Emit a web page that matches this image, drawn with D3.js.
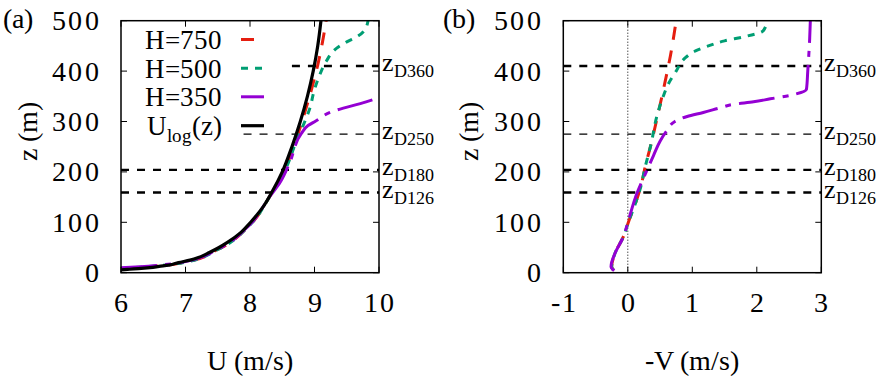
<!DOCTYPE html>
<html>
<head>
<meta charset="utf-8">
<script src="https://cdn.jsdelivr.net/npm/d3@7"></script>
<style>
    @font-face { font-family: 'ChartSerif'; src: local('Liberation Serif'), local('LiberationSerif-Regular'), local('Times New Roman'); }
    text, tspan { font-family: 'ChartSerif', 'Liberation Serif', 'Times New Roman', Tinos, 'Nimbus Roman', FreeSerif !important; }
</style>
</head>
<body style="margin:0">
<div id="chart"></div>
<script>
// ---- data ----
const zTicks = [0, 100, 200, 300, 400, 500];
const uTicks = [6, 7, 8, 9, 10];
const vTicks = [-1, 0, 1, 2, 3];

// reference heights z_D (m) and their labels
const zDHeights = [410, 275, 204, 159];
const zDNames = ['D360', 'D250', 'D180', 'D126'];
// where the dashed line begins in panel (a), in U units
const zDStartU = [8.65, 7.9, 6, 6];

// panel (a): [U (m/s), z (m)]
const uH750 = [[6.0, 8], [6.3, 10.5], [6.6, 13.5], [7.0, 21], [7.5, 46], [8.0, 95], [8.3, 150],
    [8.55, 208], [8.7, 258], [8.83, 310], [8.95, 362], [9.05, 412], [9.12, 455], [9.18, 500]];
const uH500 = [[6.0, 8.5], [6.3, 11], [6.6, 14], [7.0, 21], [7.5, 46], [8.0, 95], [8.3, 150],
    [8.56, 208], [8.72, 262], [8.85, 300], [8.93, 327], [8.99, 359], [9.07, 389], [9.18, 419],
    [9.34, 445], [9.5, 458], [9.68, 470], [9.77, 480], [9.83, 500]];
const uH350 = [[6.0, 10], [6.3, 12], [6.6, 15], [7.0, 22], [7.5, 47], [8.0, 96], [8.3, 150],
    [8.47, 180], [8.62, 220], [8.8, 277], [8.9, 292], [9.02, 301], [9.24, 318], [9.8, 339], [10.0, 347]];
const uLog = [[6.0, 5.5], [6.1, 6.5], [6.2, 7.5], [6.36, 9], [6.45, 10], [6.59, 12.5], [6.74, 15],
    [6.89, 20], [7.07, 25], [7.2, 30], [7.37, 40], [7.52, 50], [7.65, 60], [7.86, 80], [8.01, 100],
    [8.2, 130], [8.34, 160], [8.5, 200], [8.65, 250], [8.78, 300], [8.89, 350], [8.98, 400],
    [9.05, 450], [9.1, 500]];

// panel (b): [-V (m/s), z (m)]
const vH750 = [[-0.22, 5], [-0.25, 12], [-0.2, 38], [-0.07, 71], [0.02, 104], [0.1, 131], [0.2, 170],
    [0.27, 210], [0.36, 255], [0.46, 310], [0.58, 380], [0.66, 430], [0.75, 500]];
const vH500 = [[-0.22, 5], [-0.25, 12], [-0.2, 38], [-0.07, 71], [0.02, 104], [0.1, 131], [0.2, 170],
    [0.27, 210], [0.36, 255], [0.45, 310], [0.55, 350], [0.63, 375], [0.75, 400], [0.88, 425],
    [1.05, 440], [1.25, 450], [1.5, 460], [1.8, 468], [2.1, 480], [2.16, 500]];
const vH350 = [[-0.21, 4], [-0.26, 12], [-0.2, 38], [-0.07, 71], [0.01, 104], [0.14, 157], [0.3, 204],
    [0.4, 233], [0.5, 261], [0.6, 281], [0.73, 300], [0.92, 310], [1.17, 318], [1.43, 327],
    [1.64, 334], [1.95, 339], [2.21, 345], [2.52, 352], [2.77, 364], [2.79, 400], [2.82, 465], [2.83, 500]];

const series = {
    h750: {name: 'H=750', color: '#e51e10', dash: '13,11', width: 3},
    h500: {name: 'H=500', color: '#009e73', dash: '7,7', width: 3},
    h350: {name: 'H=350', color: '#9400d3', dash: '36,8,6,8', width: 3},
    log: {name: 'U', color: '#000', dash: null, width: 3.2}
};

const FONT = '"Times New Roman"';
const width = 887;
const height = 386;
const plotTop = 20.7;
const plotHeight = 252;
const plotWidth = 258;

const svg = d3.select('#chart').append('svg')
    .attr('width', width)
    .attr('height', height)
    .style('display', 'block');

const yScale = d3.scaleLinear().domain([0, 500]).range([plotTop + plotHeight, plotTop]);

function addText(parent, x, y, size) {
    return parent.append('text')
        .attr('x', x).attr('y', y)
        .style('font-family', FONT)
        .style('font-size', size + 'px');
}

function drawPanel(opts) {
    const xScale = d3.scaleLinear().domain(opts.domain).range([opts.left, opts.left + plotWidth]);
    const right = opts.left + plotWidth;
    const bottom = plotTop + plotHeight;

    // zero line
    if (opts.zeroLine) {
        svg.append('line')
            .attr('x1', xScale(0)).attr('x2', xScale(0))
            .attr('y1', plotTop).attr('y2', bottom)
            .attr('stroke', '#000').attr('stroke-width', 1)
            .attr('stroke-dasharray', '1,2');
    }

    // z_D reference lines
    zDHeights.forEach((z, i) => {
        const x0 = opts.zDStart ? xScale(opts.zDStart[i]) : opts.left;
        svg.append('line')
            .attr('x1', x0).attr('x2', right)
            .attr('y1', yScale(z)).attr('y2', yScale(z))
            .attr('stroke', '#000')
            .attr('stroke-width', i === 1 ? 1.3 : 2.4)
            .attr('stroke-dasharray', '8,8');

        const lbl = addText(svg, right + 3, yScale(z) + 5, 26);
        lbl.append('tspan').text('z');
        lbl.append('tspan')
            .attr('dy', 6)
            .style('font-size', '18px')
            .text(zDNames[i]);
    });

    // curves
    const line = d3.line()
        .x(d => xScale(d[0]))
        .y(d => yScale(d[1]))
        .curve(d3.curveMonotoneY);

    const clipId = 'clip-' + opts.tag;
    svg.append('clipPath').attr('id', clipId)
        .append('rect')
        .attr('x', opts.left).attr('y', plotTop)
        .attr('width', plotWidth).attr('height', plotHeight);

    opts.curves.forEach(c => {
        svg.append('path')
            .datum(c.data)
            .attr('clip-path', `url(#${clipId})`)
            .attr('fill', 'none')
            .attr('stroke', c.style.color)
            .attr('stroke-width', c.style.width)
            .attr('stroke-dasharray', c.style.dash)
            .attr('stroke-linejoin', 'round')
            .attr('d', line);
    });

    // frame
    svg.append('rect')
        .attr('x', opts.left).attr('y', plotTop)
        .attr('width', plotWidth).attr('height', plotHeight)
        .attr('fill', 'none').attr('stroke', '#000').attr('stroke-width', 1.5);

    // ticks (mirrored, inward)
    zTicks.forEach(t => {
        const y = yScale(t);
        svg.append('line').attr('x1', opts.left).attr('x2', opts.left + 6)
            .attr('y1', y).attr('y2', y).attr('stroke', '#000');
        svg.append('line').attr('x1', right - 6).attr('x2', right)
            .attr('y1', y).attr('y2', y).attr('stroke', '#000');
        addText(svg, opts.left - 20, y + 9.5, 28)
            .attr('text-anchor', 'end')
            .style('letter-spacing', '2.5px')
            .text(t);
    });
    opts.ticks.forEach(t => {
        const x = xScale(t);
        svg.append('line').attr('x1', x).attr('x2', x)
            .attr('y1', bottom).attr('y2', bottom - 6).attr('stroke', '#000');
        svg.append('line').attr('x1', x).attr('x2', x)
            .attr('y1', plotTop).attr('y2', plotTop + 6).attr('stroke', '#000');
        addText(svg, x + 1, 312, 28)
            .attr('text-anchor', 'middle')
            .style('letter-spacing', '2px')
            .text(t);
    });

    // axis titles
    addText(svg, opts.left + plotWidth / 2, 370, 28)
        .attr('text-anchor', 'middle')
        .text(opts.xTitle);
    addText(svg, 0, 0, 28)
        .attr('transform', `translate(${opts.yTitleX},131) rotate(-90)`)
        .attr('text-anchor', 'middle').attr('dy', '0.35em')
        .text('z (m)');

    addText(svg, opts.tagX, 28, 28).text(`(${opts.tag})`);
}

function drawLegend() {
    const rows = [series.h750, series.h500, series.h350, series.log];
    const rowY = [39.5, 68.3, 96.8, 125.7];
    rows.forEach((s, i) => {
        const t = addText(svg, 222, rowY[i] + 9.5, 27)
            .attr('text-anchor', 'end');
        if (s === series.log) {
            t.append('tspan').text('U');
            t.append('tspan').attr('dy', 7).style('font-size', '19px').text('log');
            t.append('tspan').attr('dy', -7).text('(z)');
        } else {
            t.text(s.name);
        }
        svg.append('line')
            .attr('x1', 241).attr('x2', 264)
            .attr('y1', rowY[i]).attr('y2', rowY[i])
            .attr('stroke', s.color).attr('stroke-width', s.width)
            .attr('stroke-dasharray', s.dash);
    });
}

drawPanel({
    tag: 'a', tagX: 3, left: 121, domain: [6, 10], ticks: uTicks,
    xTitle: 'U (m/s)', yTitleX: 27, zDStart: zDStartU,
    curves: [
        {data: uH750, style: series.h750},
        {data: uH500, style: series.h500},
        {data: uH350, style: series.h350},
        {data: uLog, style: series.log}
    ]
});
drawPanel({
    tag: 'b', tagX: 443, left: 563.3, domain: [-1, 3], ticks: vTicks,
    xTitle: '-V (m/s)', yTitleX: 468, zeroLine: true,
    curves: [
        {data: vH750, style: series.h750},
        {data: vH500, style: series.h500},
        {data: vH350, style: series.h350}
    ]
});
drawLegend();
</script>
</body>
</html>
